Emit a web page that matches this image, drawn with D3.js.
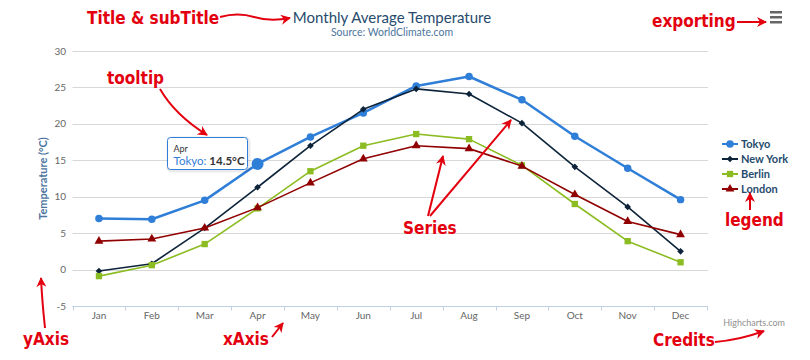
<!DOCTYPE html>
<html><head><meta charset="utf-8">
<script src="https://cdn.jsdelivr.net/npm/d3@7"></script>
<style>
html,body{margin:0;padding:0;background:#fff;}
svg{display:block;font-family:"Lato","DejaVu Sans",sans-serif;}
.ann{font-family:"DejaVu Sans Condensed","DejaVu Sans",sans-serif;font-stretch:condensed;font-weight:bold;fill:#e3000f;}
</style></head>
<body>
<svg id="c" width="810" height="360"></svg>
<script>
const categories = ["Jan","Feb","Mar","Apr","May","Jun","Jul","Aug","Sep","Oct","Nov","Dec"];
const tokyo   = [7.0, 6.9, 9.5, 14.5, 18.2, 21.5, 25.2, 26.5, 23.3, 18.3, 13.9, 9.6];
const newYork = [-0.2, 0.8, 5.7, 11.3, 17.0, 22.0, 24.8, 24.1, 20.1, 14.1, 8.6, 2.5];
const berlin  = [-0.9, 0.6, 3.5, 8.4, 13.5, 17.0, 18.6, 17.9, 14.3, 9.0, 3.9, 1.0];
const london  = [3.9, 4.2, 5.7, 8.5, 11.9, 15.2, 17.0, 16.6, 14.2, 10.3, 6.6, 4.8];
const seriesNames = ["Tokyo","New York","Berlin","London"];
const yTicks = [-5, 0, 5, 10, 15, 20, 25, 30];

const seriesData = [tokyo, newYork, berlin, london];
const colors = ["#2f7ed8","#0d233a","#8bbc21","#910000"];
const symbols = [d3.symbolCircle, d3.symbolSquare, d3.symbolSquare, d3.symbolTriangle];
const symSize = [44, 22, 40, 34];
const symRot = [0, 45, 0, 0];

const svg = d3.select("#c");
const L = 72.5, R = 707, T = 51, B = 306;
const x = d3.scaleBand().domain(categories).range([L, R]);
const y = d3.scaleLinear().domain([-5, 30]).range([B, T]);

// grid
svg.append("g").selectAll("line").data(yTicks.filter(t => t !== -5)).join("line")
  .attr("x1", L).attr("x2", R + 1).attr("y1", d => Math.round(y(d)) + 0.5).attr("y2", d => Math.round(y(d)) + 0.5)
  .attr("stroke", "#d8d8d8").attr("stroke-width", 1);

// x axis
const xg = svg.append("g").attr("transform", `translate(0,${B + 0.5})`);
xg.append("line").attr("x1", L).attr("x2", R + 1).attr("stroke", "#c0d0e0");
const bounds = d3.range(categories.length + 1).map(i => L + i * x.bandwidth());
xg.selectAll("line.tk").data(bounds).join("line").attr("class","tk")
  .attr("x1", d => Math.round(d) + 0.5).attr("x2", d => Math.round(d) + 0.5).attr("y1", 0).attr("y2", 4)
  .attr("stroke", "#c0d0e0");
xg.selectAll("text").data(categories).join("text")
  .attr("x", d => x(d) + x.bandwidth() / 2).attr("y", 12)
  .attr("text-anchor", "middle").attr("fill", "#666").attr("font-size", "10px").text(d => d);

// y axis labels
svg.append("g").selectAll("text").data(yTicks).join("text")
  .attr("x", 66).attr("y", d => y(d) + 3.5).attr("text-anchor", "end")
  .attr("fill", "#666").attr("font-size", "10px").text(d => d);

svg.append("text").attr("transform", `translate(47,${(T + B) / 2}) rotate(-90)`)
  .attr("text-anchor", "middle").attr("fill", "#4d759e").attr("font-weight", "bold")
  .attr("font-size", "11px").text("Temperature (°C)");

// title
svg.append("text").attr("x", 392).attr("y", 23).attr("text-anchor", "middle")
  .attr("fill", "#274b6d").attr("font-size", "15px").text("Monthly Average Temperature");
svg.append("text").attr("x", 392).attr("y", 36).attr("text-anchor", "middle")
  .attr("fill", "#4d759e").attr("font-size", "10.5px").text("Source: WorldClimate.com");

// series
const line = d3.line().x((d, i) => x(categories[i]) + x.bandwidth() / 2).y(d => y(d));
seriesData.forEach((s, k) => {
  const g = svg.append("g");
  g.append("path").attr("d", line(s)).attr("fill", "none").attr("stroke", colors[k])
    .attr("stroke-width", k === 0 ? 2.5 : 1.6).attr("stroke-linejoin", "round");
  g.selectAll("path.m").data(s).join("path").attr("class", "m")
    .attr("transform", (d, i) => `translate(${x(categories[i]) + x.bandwidth() / 2},${y(d)}) rotate(${symRot[k]})`)
    .attr("d", d3.symbol().type(symbols[k]).size(symSize[k])).attr("fill", colors[k]);
});
// hovered point
svg.append("circle").attr("cx", x("Apr") + x.bandwidth() / 2).attr("cy", y(tokyo[3])).attr("r", 6)
  .attr("fill", colors[0]);

// tooltip
const tt = svg.append("g").attr("transform", "translate(167.5,137.5)");
tt.append("rect").attr("x", 1).attr("y", 1).attr("width", 80).attr("height", 32).attr("rx", 3)
  .attr("fill", "none").attr("stroke", "#000").attr("stroke-opacity", 0.08).attr("stroke-width", 4);
tt.append("rect").attr("width", 80).attr("height", 32).attr("rx", 3)
  .attr("fill", "#fff").attr("fill-opacity", 0.95).attr("stroke", colors[0]).attr("stroke-width", 1);
tt.append("text").attr("x", 6).attr("y", 14).attr("font-size", "9px").attr("fill", "#333").text(categories[3]);
const t2 = tt.append("text").attr("x", 6).attr("y", 27).attr("font-size", "11.5px");
t2.append("tspan").attr("fill", colors[0]).text(seriesNames[0] + ": ");
t2.append("tspan").attr("fill", "#333").attr("font-weight", "bold").text(tokyo[3] + "°C");

// legend
const lg = svg.append("g");
seriesNames.forEach((n, k) => {
  const ly = 144 + k * 15;
  lg.append("line").attr("x1", 722).attr("x2", 738).attr("y1", ly).attr("y2", ly)
    .attr("stroke", colors[k]).attr("stroke-width", 2);
  lg.append("path").attr("transform", `translate(730,${ly}) rotate(${symRot[k]})`)
    .attr("d", d3.symbol().type(symbols[k]).size(symSize[k])).attr("fill", colors[k]);
  lg.append("text").attr("x", 741).attr("y", ly + 4).attr("font-size", "11px")
    .attr("fill", "#274b6d").attr("font-weight", "bold").text(n);
});

// exporting icon
const ex = svg.append("g").attr("transform", "translate(770,11)");
[0, 5, 10].forEach(d => ex.append("rect").attr("x", 0).attr("y", d).attr("width", 12).attr("height", 2.5).attr("fill", "#666"));

// credits
svg.append("text").attr("x", 785).attr("y", 326).attr("text-anchor", "end")
  .attr("fill", "#909090").attr("font-size", "9px").text("Highcharts.com");

// annotations
const defs = svg.append("defs");
defs.append("marker").attr("id", "ah").attr("viewBox", "0 0 10 10").attr("refX", 9).attr("refY", 5)
  .attr("markerWidth", 5).attr("markerHeight", 5).attr("orient", "auto")
  .append("path").attr("d", "M0,0 L10,5 L0,10 L3,5 Z").attr("fill", "#e3000f");
const anns = [
  {t: "Title & subTitle", x: 87, y: 24, s: 17},
  {t: "exporting", x: 652, y: 27, s: 17},
  {t: "tooltip", x: 107, y: 84, s: 17},
  {t: "Series", x: 403, y: 234, s: 17},
  {t: "legend", x: 725, y: 226, s: 17},
  {t: "yAxis", x: 23, y: 345, s: 17},
  {t: "xAxis", x: 223, y: 345, s: 17},
  {t: "Credits", x: 653, y: 346, s: 17}
];
svg.append("g").selectAll("text").data(anns).join("text").attr("class", "ann")
  .attr("x", d => d.x).attr("y", d => d.y).attr("font-size", d => d.s + "px").text(d => d.t);
const arrows = [
  "M220,17 Q238,12 254,17 T290,18",
  "M737,22 L766,22",
  "M160,89 Q175,115 207,135",
  "M428,216 L443,156",
  "M430,216 L511,120",
  "M750,210 L750,193",
  "M45,328 Q42,300 41,278",
  "M272,337 L283,323",
  "M715,342 Q740,340 764,331"
];
svg.append("g").selectAll("path").data(arrows).join("path").attr("d", d => d)
  .attr("fill", "none").attr("stroke", "#e3000f").attr("stroke-width", 2).attr("marker-end", "url(#ah)");
</script>
</body></html>
